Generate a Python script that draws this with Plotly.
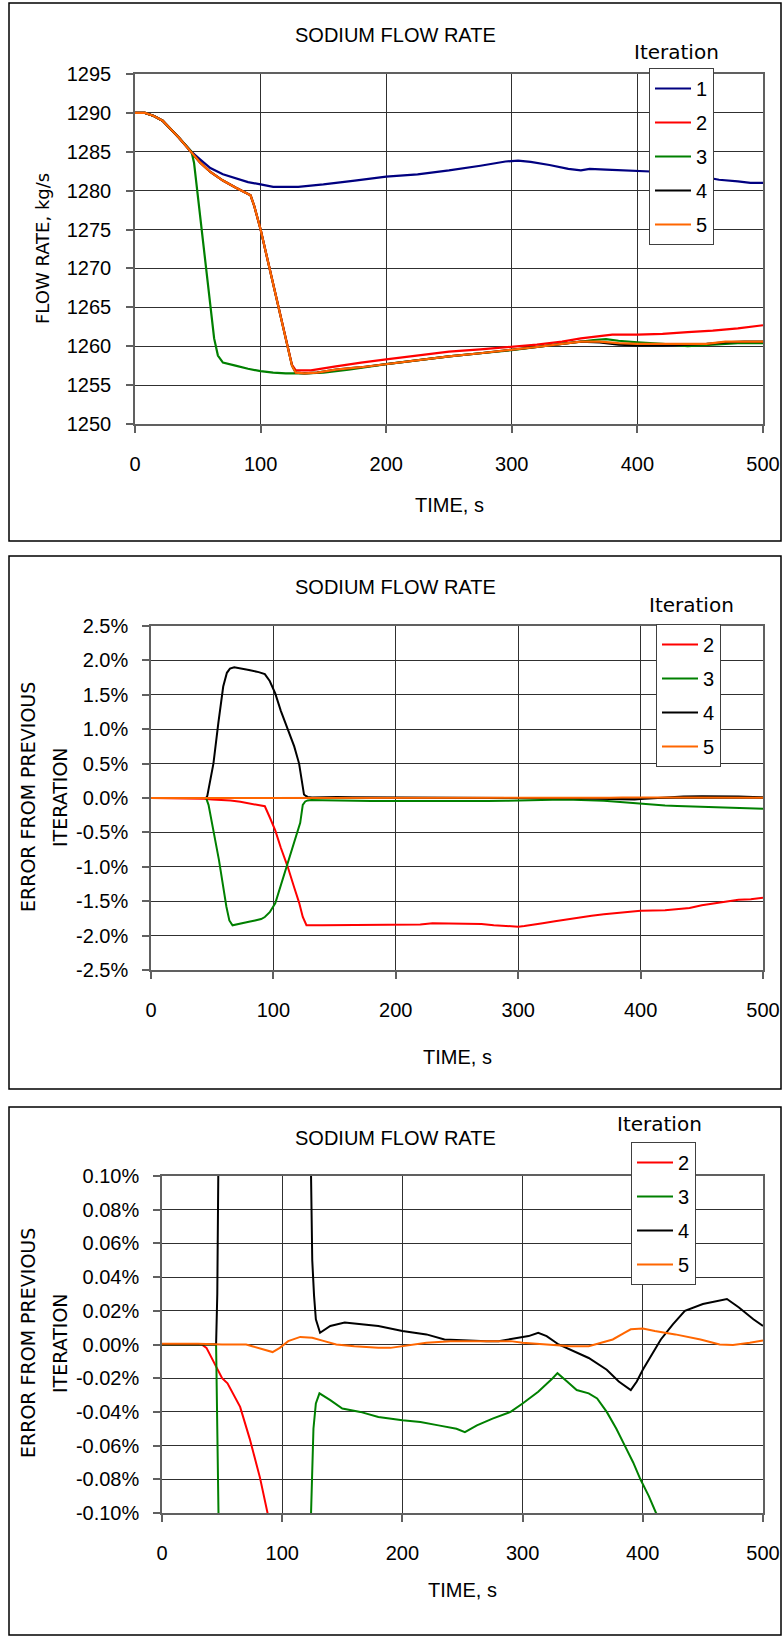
import plotly.graph_objects as go

W, H = 784, 1642

# ---------------- Panel 1: sodium flow rate (kg/s) ----------------
t_it1 = [0, 8, 15, 22, 35, 45, 52, 60, 70, 80, 90, 100, 110, 130, 150, 175, 200, 225, 250, 275,
         295, 305, 315, 330, 345, 355, 362, 375, 400, 420, 445, 465, 480, 490, 500]
flow_it1 = [1290.0, 1290.0, 1289.6, 1289.0, 1286.8, 1285.0, 1284.0, 1282.9, 1282.1, 1281.6, 1281.1,
            1280.8, 1280.5, 1280.5, 1280.8, 1281.3, 1281.8, 1282.1, 1282.6, 1283.2, 1283.75, 1283.85,
            1283.7, 1283.3, 1282.8, 1282.6, 1282.8, 1282.7, 1282.5, 1282.4, 1282.0, 1281.4, 1281.2,
            1281.0, 1281.0]

t_it2 = [0, 8, 15, 22, 35, 45, 52, 60, 70, 80, 88, 92, 95, 100, 105, 110, 115, 120, 125, 128, 140,
         160, 180, 200, 225, 250, 275, 300, 320, 340, 355, 370, 380, 400, 420, 440, 460, 480, 500]
flow_it2 = [1290.0, 1290.0, 1289.6, 1289.0, 1286.8, 1285.0, 1283.6, 1282.4, 1281.3, 1280.4, 1279.8,
            1279.4, 1278.0, 1275.0, 1271.5, 1268.0, 1264.5, 1261.0, 1257.6, 1256.9, 1256.9, 1257.4,
            1257.9, 1258.3, 1258.8, 1259.3, 1259.6, 1259.9, 1260.2, 1260.6, 1261.0, 1261.3, 1261.5,
            1261.5, 1261.6, 1261.8, 1262.0, 1262.3, 1262.7]

t_it3 = [0, 8, 15, 22, 35, 45, 47, 50, 55, 60, 63, 66, 70, 80, 90, 100, 110, 120, 135, 150, 170,
         200, 225, 250, 275, 300, 325, 350, 365, 375, 385, 400, 420, 440, 460, 480, 500]
flow_it3 = [1290.0, 1290.0, 1289.6, 1289.0, 1286.8, 1285.0, 1283.6, 1279.4, 1272.3, 1265.3, 1261.0,
            1258.8, 1257.9, 1257.5, 1257.1, 1256.8, 1256.6, 1256.5, 1256.5, 1256.6, 1257.0, 1257.7,
            1258.2, 1258.7, 1259.1, 1259.5, 1260.0, 1260.5, 1260.8, 1260.9, 1260.7, 1260.5, 1260.3,
            1260.0, 1260.2, 1260.4, 1260.4]

t_it4 = [0, 8, 15, 22, 35, 45, 52, 60, 70, 80, 88, 92, 95, 100, 105, 110, 115, 120, 125, 128, 135,
         145, 160, 180, 200, 225, 250, 275, 300, 320, 340, 355, 370, 385, 400, 420, 440, 455, 470,
         485, 500]
flow_it4 = [1290.0, 1290.0, 1289.6, 1289.0, 1286.8, 1285.0, 1283.6, 1282.4, 1281.3, 1280.4, 1279.8,
            1279.4, 1278.0, 1275.0, 1271.5, 1268.0, 1264.5, 1261.0, 1257.5, 1256.6, 1256.5, 1256.6,
            1257.0, 1257.3, 1257.7, 1258.2, 1258.7, 1259.1, 1259.5, 1259.9, 1260.3, 1260.6, 1260.5,
            1260.2, 1260.1, 1260.1, 1260.2, 1260.3, 1260.5, 1260.6, 1260.6]

t_it5 = t_it4
flow_it5 = [1290.0, 1290.0, 1289.6, 1289.0, 1286.8, 1285.0, 1283.6, 1282.4, 1281.3, 1280.4, 1279.8,
            1279.4, 1278.0, 1275.0, 1271.5, 1268.0, 1264.5, 1261.0, 1257.5, 1256.6, 1256.5, 1256.6,
            1257.0, 1257.3, 1257.7, 1258.2, 1258.7, 1259.1, 1259.5, 1259.9, 1260.3, 1260.6, 1260.6,
            1260.4, 1260.3, 1260.3, 1260.3, 1260.3, 1260.6, 1260.6, 1260.6]

# ---------------- Error from previous iteration (%) (panels 2 and 3) ----------------
t_err2 = [0, 33, 37, 43, 50, 54.5, 60, 65, 73, 81.5, 87.8, 93, 97, 101.5, 106, 111.7, 117, 121,
          124, 127, 140, 160, 190, 195, 220, 230, 260, 270, 280, 295, 300, 305, 310, 320, 330, 340,
          350, 360, 370, 380, 390, 400, 420, 430, 440, 450, 460, 470, 480, 490, 500]
err_it2 = [0, 0, -0.002, -0.01, -0.02, -0.023, -0.03, -0.037, -0.056, -0.079, -0.1, -0.12, -0.28,
           -0.47, -0.72, -1.0, -1.3, -1.52, -1.73, -1.85, -1.85, -1.85, -1.85, -1.84, -1.84, -1.82,
           -1.82, -1.83, -1.85, -1.86, -1.87, -1.86, -1.85, -1.82, -1.79, -1.76, -1.73, -1.71,
           -1.69, -1.67, -1.65, -1.64, -1.63, -1.62, -1.6, -1.56, -1.53, -1.5, -1.48, -1.47, -1.45]

t_err3 = [0, 45, 47, 50, 55.5, 61.6, 64, 66.6, 70, 75, 80, 85, 90, 93, 97, 101.5, 106, 111.7, 117,
          121.9, 124, 126, 128, 131, 140, 150, 165, 180, 200, 215, 230, 245, 252, 262, 275, 290,
          300, 313, 325, 329, 337, 345, 355, 362, 370, 378, 385, 392, 398, 405, 411, 420, 430, 440,
          450, 460, 470, 480, 490, 500]
err_it3 = [0, 0, -0.1, -0.38, -0.9, -1.58, -1.78, -1.85, -1.84, -1.82, -1.8, -1.78, -1.76, -1.73,
           -1.66, -1.53, -1.27, -0.95, -0.62, -0.36, -0.1, -0.05, -0.035, -0.029, -0.033, -0.038,
           -0.040, -0.043, -0.045, -0.046, -0.048, -0.050, -0.052, -0.048, -0.044, -0.040, -0.035,
           -0.028, -0.020, -0.017, -0.022, -0.027, -0.029, -0.032, -0.040, -0.050, -0.060, -0.070,
           -0.080, -0.090, -0.100, -0.108, -0.115, -0.122, -0.128, -0.135, -0.142, -0.148, -0.153,
           -0.157]

t_err4 = [0, 45, 46, 47, 51, 55, 59, 62, 64.5, 68, 72, 80, 88, 93, 97, 101.5, 106, 111.7, 117, 121,
          123, 124, 125, 126.5, 128, 131.5, 140, 152, 165, 180, 200, 210, 220, 235, 250, 260, 270,
          280, 295, 305, 313, 320, 330, 345, 355, 370, 380, 390, 395, 400, 408, 415, 425, 435, 450,
          465, 470, 480, 492, 500]
err_it4 = [0, 0, 0.03, 0.12, 0.5, 1.09, 1.62, 1.82, 1.88, 1.9, 1.89, 1.86, 1.83, 1.8, 1.7, 1.52,
           1.27, 0.99, 0.75, 0.5, 0.25, 0.1, 0.05, 0.029, 0.015, 0.007, 0.011, 0.013, 0.012, 0.011,
           0.008, 0.007, 0.006, 0.003, 0.0025, 0.002, 0.002, 0.002, 0.004, 0.005, 0.007, 0.005, 0.0,
           -0.005, -0.008, -0.015, -0.022, -0.027, -0.022, -0.015, -0.005, 0.003, 0.012, 0.02,
           0.024, 0.026, 0.027, 0.022, 0.015, 0.011]

t_err5 = [0, 30, 50, 70, 75, 85, 92, 98, 105, 115, 125, 135, 145, 160, 180, 190, 200, 210, 220,
          240, 270, 290, 300, 320, 340, 355, 365, 375, 385, 390, 400, 410, 427, 448, 464, 475, 489,
          500]
err_it5 = [0.0005, 0.0005, 0.0, 0.0, -0.001, -0.003, -0.0045, -0.002, 0.002, 0.0045, 0.004, 0.002,
           0.0, -0.001, -0.002, -0.002, -0.001, 0.0, 0.001, 0.002, 0.002, 0.002, 0.001, 0.0, -0.001,
           -0.001, 0.001, 0.003, 0.007, 0.009, 0.0095, 0.008, 0.006, 0.003, 0.0, -0.0003, 0.001,
           0.0024]

# ---------------- Labels ----------------
iteration_names = ["1", "2", "3", "4", "5"]
colors = {"1": "#000080", "2": "#FF0000", "3": "#008000", "4": "#000000", "5": "#FF6600"}

x_ticks = [0, 100, 200, 300, 400, 500]
y1_ticks = [1250, 1255, 1260, 1265, 1270, 1275, 1280, 1285, 1290, 1295]
y2_ticks = [-2.5, -2.0, -1.5, -1.0, -0.5, 0.0, 0.5, 1.0, 1.5, 2.0, 2.5]
y2_ticktext = ["-2.5%", "-2.0%", "-1.5%", "-1.0%", "-0.5%", "0.0%", "0.5%", "1.0%", "1.5%",
               "2.0%", "2.5%"]
y3_ticks = [-0.10, -0.08, -0.06, -0.04, -0.02, 0.0, 0.02, 0.04, 0.06, 0.08, 0.10]
y3_ticktext = ["-0.10%", "-0.08%", "-0.06%", "-0.04%", "-0.02%", "0.00%", "0.02%", "0.04%",
               "0.06%", "0.08%", "0.10%"]

title_text = "SODIUM FLOW RATE"
x_title = "TIME, s"
y1_title = "FLOW RATE, kg/s"
y23_title_lines = ["ERROR FROM PREVIOUS", "ITERATION"]
legend_title = "Iteration"

ARIAL = "Liberation Sans, Arial, sans-serif"
DEJAVU = "DejaVu Sans, Verdana, sans-serif"


def px(x):
    return x / W


def py(y):
    return 1 - y / H


fig = go.Figure()

flow_series = {"1": (t_it1, flow_it1), "2": (t_it2, flow_it2), "3": (t_it3, flow_it3),
               "4": (t_it4, flow_it4), "5": (t_it5, flow_it5)}
err_series = {"2": (t_err2, err_it2), "3": (t_err3, err_it3), "4": (t_err4, err_it4),
              "5": (t_err5, err_it5)}

for name in iteration_names:
    t, v = flow_series[name]
    fig.add_trace(go.Scatter(x=t, y=v, mode="lines", name=name,
                             line=dict(color=colors[name], width=2.2),
                             xaxis="x", yaxis="y", legend="legend", legendgroup="a" + name))

for k, (xa, ya, lg) in enumerate([("x2", "y2", "legend2"), ("x3", "y3", "legend3")]):
    for name in ["2", "3", "4", "5"]:
        t, v = err_series[name]
        fig.add_trace(go.Scatter(x=t, y=v, mode="lines", name=name,
                                 line=dict(color=colors[name], width=2),
                                 xaxis=xa, yaxis=ya, legend=lg,
                                 legendgroup=lg + name))

axis_common = dict(showline=True, mirror=True, linecolor="#606060", linewidth=1.5,
                   showgrid=True, gridcolor="#303030", gridwidth=1,
                   ticks="outside", ticklen=7, tickcolor="#606060", tickwidth=1.5,
                   tickfont=dict(family=ARIAL, size=20, color="black"),
                   zeroline=False, automargin=False)

panels = [
    # x-left, x-right, y-top, y-bottom (pixels)
    (135, 763, 74, 424),
    (151, 763, 626, 970),
    (162, 763, 1176, 1513),
]

layout = dict(template="none", width=W, height=H, margin=dict(l=0, r=0, t=0, b=0, pad=0),
              paper_bgcolor="white", plot_bgcolor="white", showlegend=True)

xnames = ["xaxis", "xaxis2", "xaxis3"]
anchors_x = ["y", "y2", "y3"]
for i, (xl, xr, yt, yb) in enumerate(panels):
    layout[xnames[i]] = dict(axis_common, domain=[px(xl), px(xr)], anchor=anchors_x[i],
                             range=[0, 500], tickvals=x_ticks, ticklabelstandoff=14)
layout["yaxis"] = dict(axis_common, domain=[py(424), py(74)], anchor="x",
                       range=[1250, 1295], tickvals=y1_ticks, ticklabelstandoff=11)
layout["yaxis2"] = dict(axis_common, domain=[py(970), py(626)], anchor="x2",
                        range=[-2.5, 2.5], tickvals=y2_ticks, ticktext=y2_ticktext,
                        ticklabelstandoff=10)
layout["yaxis3"] = dict(axis_common, domain=[py(1513), py(1176)], anchor="x3",
                        range=[-0.1, 0.1], tickvals=y3_ticks, ticktext=y3_ticktext,
                        ticklabelstandoff=10)

leg_common = dict(xanchor="left", yanchor="top", bgcolor="white", bordercolor="#404040",
                  borderwidth=1, font=dict(family=ARIAL, size=20, color="black"),
                  tracegroupgap=5, traceorder="grouped", itemwidth=36)
layout["legend"] = dict(leg_common, x=px(649), y=py(68))
layout["legend2"] = dict(leg_common, x=px(656), y=py(624))
layout["legend3"] = dict(leg_common, x=px(631), y=py(1142))

annotations = []
shapes = []
# panel frames
frames = [(9, 781, 3, 541), (9, 781, 556, 1089), (9, 781, 1107, 1635)]
for (x0, x1, y0, y1) in frames:
    shapes.append(dict(type="rect", xref="paper", yref="paper", x0=px(x0), x1=px(x1),
                       y0=py(y1), y1=py(y0), line=dict(color="black", width=1.5),
                       fillcolor="rgba(0,0,0,0)", layer="below"))

title_y = [35, 587, 1138]
iter_pos = [(676, 52), (691, 605), (659, 1124)]
xtitle_pos = [(449, 505), (457, 1057), (463, 1590)]
for i in range(3):
    annotations.append(dict(text=title_text, x=px(395), y=py(title_y[i]), xref="paper",
                            yref="paper", showarrow=False, xanchor="center", yanchor="middle",
                            font=dict(family=ARIAL, size=20, color="black")))
    annotations.append(dict(text=legend_title, x=px(iter_pos[i][0]), y=py(iter_pos[i][1]),
                            xref="paper", yref="paper", showarrow=False, xanchor="center",
                            yanchor="middle", font=dict(family=DEJAVU, size=20, color="black")))
    annotations.append(dict(text=x_title, x=px(xtitle_pos[i][0]), y=py(xtitle_pos[i][1]),
                            xref="paper", yref="paper", showarrow=False, xanchor="center",
                            yanchor="middle", font=dict(family=ARIAL, size=20, color="black")))

annotations.append(dict(text=y1_title, x=px(42), y=py(249), xref="paper", yref="paper",
                        showarrow=False, textangle=-90, xanchor="center", yanchor="middle",
                        font=dict(family=DEJAVU, size=18, color="black")))
for cy in [797, 1343]:
    annotations.append(dict(text=y23_title_lines[0], x=px(28), y=py(cy), xref="paper",
                            yref="paper", showarrow=False, textangle=-90, xanchor="center",
                            yanchor="middle", font=dict(family=DEJAVU, size=19, color="black")))
    annotations.append(dict(text=y23_title_lines[1], x=px(60), y=py(cy), xref="paper",
                            yref="paper", showarrow=False, textangle=-90, xanchor="center",
                            yanchor="middle", font=dict(family=DEJAVU, size=19, color="black")))

layout["annotations"] = annotations
layout["shapes"] = shapes
fig.update_layout(**layout)

fig.write_html("out.html", config={"displayModeBar": False},
               post_script="document.body.style.margin='0';document.body.style.overflow='hidden';")
